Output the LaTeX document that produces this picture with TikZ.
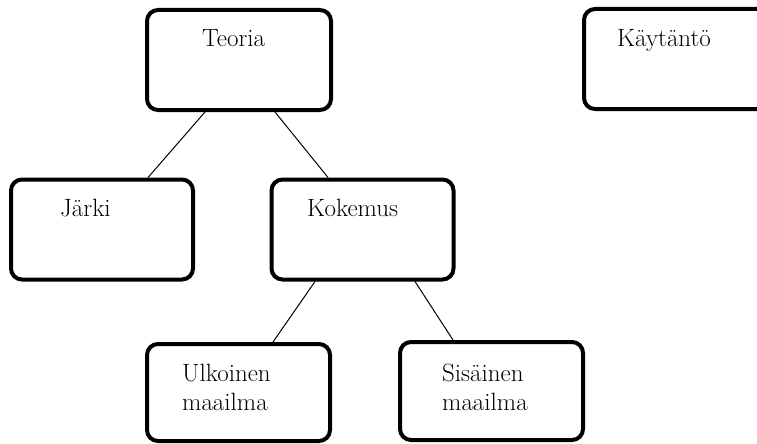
\documentclass[tikz,border=0pt]{standalone}
\begin{document}
\begin{tikzpicture}[
    x=1pt, y=-1pt,
    boite/.style={draw, line width=4pt, rounded corners=11pt, minimum width=184pt, minimum height=100pt, inner sep=0pt},
    texte/.style={anchor=base west, inner sep=0pt, font=\fontsize{25}{29}\selectfont, align=left},
    lien/.style={draw, line width=1pt},
]
\clip (0,0) rectangle (757,444);

% Premier niveau
\node[boite] (teoria) at (239,60) {};
\node[boite] (kaytanto) at (676,59) {};
\node[texte] (teoriat) at (202,47) {Teoria};
\node[texte] (kaytantot) at (617,47) {Käytäntö};

% Deuxième niveau
\node[boite, minimum width=182pt] (jarki) at (102,229.5) {};
\node[boite, minimum width=182pt] (kokemus) at (362.5,229.5) {};
\node[texte] (jarkit) at (60,216) {Järki};
\node[texte] (kokemust) at (307,216) {Kokemus};

% Troisième niveau
\node[boite, minimum width=183pt, minimum height=97pt] (ulkoinen) at (238.5,392.5) {};
\node[boite, minimum width=183pt, minimum height=98pt] (sisainen) at (491.5,391) {};
\node[texte] (ulkoinent) at (182,410) {Ulkoinen\\maailma};
\node[texte] (sisainent) at (442,410) {Sisäinen\\maailma};

% Liens
\draw[lien] ([xshift=-34pt]teoria.south) -- ([xshift=46pt]jarki.north);
\draw[lien] ([xshift=36pt]teoria.south) -- ([xshift=-34.5pt]kokemus.north);
\draw[lien] ([xshift=-47.5pt]kokemus.south) -- ([xshift=34.5pt]ulkoinen.north);
\draw[lien] ([xshift=52.5pt]kokemus.south) -- ([xshift=-38.5pt]sisainen.north);

\end{tikzpicture}
\end{document}
